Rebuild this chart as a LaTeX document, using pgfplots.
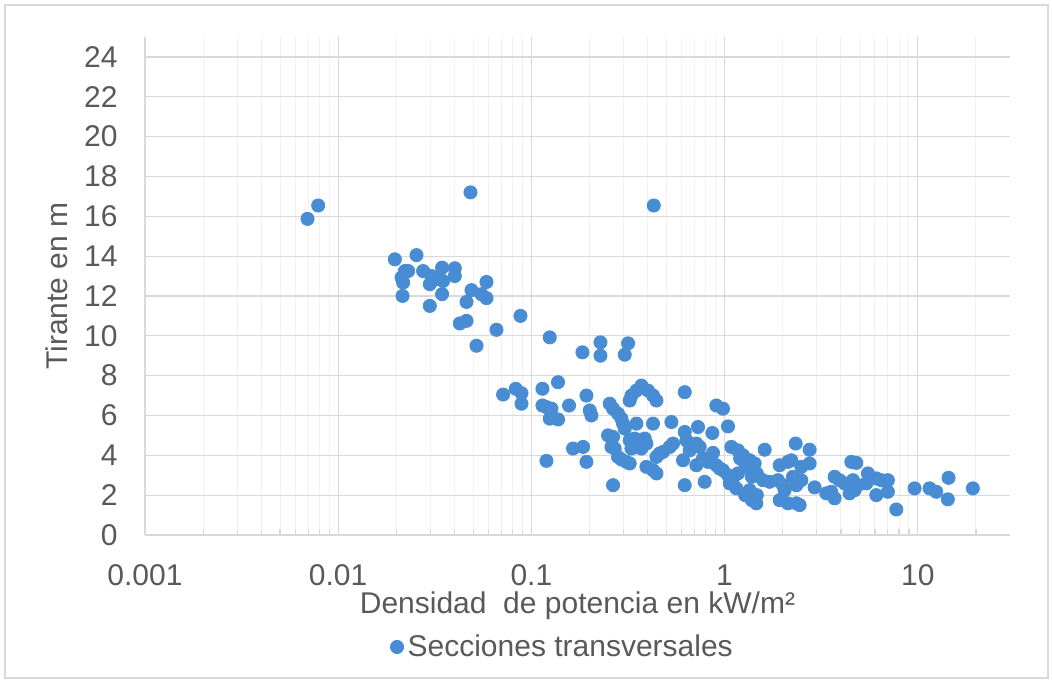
\documentclass[border=0pt]{standalone}
\usepackage{pgfplots}
\pgfplotsset{compat=1.18}
\usepackage{fontspec}
\setmainfont{Liberation Sans}

\definecolor{dotblue}{RGB}{72,141,212}
\definecolor{txtgray}{RGB}{89,89,89}
\definecolor{gridgray}{RGB}{217,217,217}
\definecolor{minorgray}{RGB}{242,242,242}

\pgfplotstableread{
x y
0.00694 15.87
0.00788 16.54
0.0484 17.2
0.430 16.54
0.01965 13.84
0.02544 14.05
0.02214 13.25
0.02302 13.25
0.02128 12.92
0.02169 12.67
0.02154 12.0
0.02753 13.25
0.03042 13.0
0.02981 12.59
0.03228 12.84
0.03492 12.75
0.03452 13.42
0.04014 13.39
0.04014 13.0
0.03452 12.09
0.02981 11.5
0.04898 12.29
0.05857 12.7
0.05518 12.09
0.05857 11.89
0.04616 11.7
0.04262 10.62
0.04616 10.75
0.06597 10.3
0.08782 11.0
0.052 9.5
0.1245 9.92
0.1838 9.17
0.2278 9.67
0.2278 9.0
0.3165 9.62
0.3043 9.05
0.0714 7.05
0.0830 7.34
0.0889 7.12
0.0889 6.59
0.1141 7.34
0.1374 7.67
0.1141 6.5
0.1197 6.42
0.1271 6.34
0.1245 5.84
0.1374 5.8
0.1567 6.5
0.1928 7.0
0.2005 6.25
0.2046 6.0
0.1643 4.34
0.1851 4.42
0.1197 3.72
0.1928 3.67
0.2647 2.5
0.2544 6.59
0.2647 6.34
0.2809 6.09
0.2925 5.84
0.2981 5.59
0.3043 5.34
0.3713 7.5
0.3497 7.25
0.3296 7.0
0.3228 6.75
0.4016 7.25
0.4262 7.0
0.4440 6.75
0.3497 5.59
0.4262 5.59
0.5306 5.67
0.6220 7.17
0.2494 5.0
0.2647 4.92
0.2597 4.42
0.2700 4.34
0.3228 4.75
0.3426 4.84
0.3637 4.75
0.3861 4.84
0.3940 4.59
0.3497 4.42
0.3296 4.34
0.3713 4.34
0.2809 3.92
0.2925 3.79
0.3105 3.67
0.3228 3.59
0.4440 3.92
0.4616 4.09
0.4801 4.17
0.52 4.42
0.5408 4.59
0.3940 3.42
0.4262 3.25
0.4440 3.09
0.6220 5.17
0.6347 4.75
0.6094 3.75
0.6220 2.5
0.6600 4.25
0.7286 5.42
0.8648 5.12
1.042 5.45
0.9066 6.5
0.981 6.34
0.7145 4.59
0.7434 4.42
0.871 4.12
0.7733 3.84
0.8204 3.67
0.7145 3.5
0.9066 3.5
1.0845 4.42
1.173 4.25
1.245 4.0
1.349 3.75
1.431 3.59
1.204 3.84
1.278 3.59
1.357 3.34
0.981 3.25
1.042 3.0
1.105 2.84
1.173 3.09
1.384 2.92
1.469 3.09
0.9434 3.34
1.063 2.59
1.151 2.34
1.278 2.0
1.384 1.75
1.469 2.0
1.460 1.59
1.349 2.25
0.7889 2.67
1.613 4.28
1.581 2.75
1.711 2.67
1.889 2.75
2.004 2.5
2.046 2.25
1.928 1.75
2.128 1.59
2.352 1.59
2.446 1.5
1.928 3.5
2.128 3.67
2.216 3.75
2.333 4.59
2.755 4.28
2.497 3.42
2.755 3.59
2.259 2.92
2.352 2.5
2.497 2.75
2.924 2.39
4.529 3.67
4.807 3.62
3.713 2.92
3.940 2.75
4.181 2.59
4.616 2.75
4.898 2.5
4.710 2.25
4.440 2.09
3.362 2.09
3.568 2.17
3.713 1.84
5.520 3.09
5.632 2.84
6.100 2.84
6.474 2.75
7.003 2.75
5.416 2.59
6.100 2.0
7.003 2.17
7.743 1.28
9.626 2.34
11.51 2.34
12.46 2.17
14.43 2.87
14.31 1.79
19.28 2.34
}\secciones

\begin{document}
\begin{tikzpicture}
\begin{axis}[
    xmode=log,
    scale only axis,
    width=432.5pt, height=249pt,
    xmin=0.001, xmax=30,
    ymin=0, ymax=25,
    xtick={0.001,0.01,0.1,1,10},
    xticklabels={0.001,0.01,0.1,1,10},
    minor xtick={0.002,0.003,0.004,0.005,0.006,0.007,0.008,0.009,
                 0.02,0.03,0.04,0.05,0.06,0.07,0.08,0.09,
                 0.2,0.3,0.4,0.5,0.6,0.7,0.8,0.9,
                 2,3,4,5,6,7,8,9,20},
    ytick={0,2,...,24},
    axis x line=bottom, axis y line=left,
    axis line style={-, draw=gridgray, line width=0.8pt},
    xmajorgrids, xminorgrids, ymajorgrids,
    major grid style={gridgray, line width=0.6pt},
    minor grid style={minorgray, line width=0.5pt},
    tick style={draw=gridgray, line width=0.6pt},
    major tick length=0pt,
    minor tick length=3pt,
    tick align=inside,
    ytick style={draw=none},
    font=\fontsize{15}{18}\selectfont,
    /pgf/number format/assume math mode=true,
    tick label style={text=txtgray},
    xticklabel style={anchor=north, inner sep=0pt, yshift=-14.5pt},
    yticklabel style={anchor=east, inner sep=0pt, xshift=-13.5pt},
    xlabel={Densidad\ \ de potencia en kW/m²},
    ylabel={Tirante en m},
    label style={text=txtgray, inner sep=0pt},
    xlabel style={at={(axis description cs:0.5,-0.142)}, anchor=center},
    ylabel style={at={(axis description cs:-0.1017,0.5)}, anchor=center},
    legend style={at={(axis description cs:0.484,-0.2249)}, anchor=center,
        draw=none, fill=none, text=txtgray, inner sep=0pt,
        /tikz/every even column/.append style={column sep=0pt}},
    legend cell align=left,
    clip=false,
]
\addplot[only marks, mark=*, mark size=3.3pt, draw=dotblue, fill=dotblue]
    table {\secciones};
\addlegendentry{Secciones transversales}

% chart frame and page size
\draw[gridgray, line width=0.8pt]
    (rel axis cs:-0.1618,-0.2871) rectangle (rel axis cs:1.0439,1.0643);
\path (rel axis cs:-0.1676,-0.2912) rectangle (rel axis cs:1.0486,1.0743);
\end{axis}
\end{tikzpicture}
\end{document}
